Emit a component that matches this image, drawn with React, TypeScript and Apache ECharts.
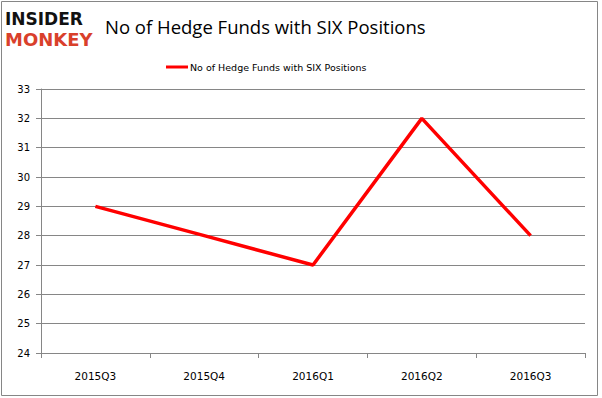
import React, { useEffect, useRef } from "react";
import * as echarts from "echarts";

const categories = ["2015Q3", "2015Q4", "2016Q1", "2016Q2", "2016Q3"];
const values = [29, 28, 27, 32, 28];
const seriesName = "No of Hedge Funds with SIX Positions";
const titleText = "No of Hedge Funds with SIX Positions";

export default function App() {
  const ref = useRef<HTMLDivElement>(null);
  useEffect(() => {
    if (!ref.current) return;
    const chart = echarts.init(ref.current, null, { renderer: "svg" });
    chart.setOption({
      animation: false,
      backgroundColor: "#ffffff",
      title: {
        text: titleText,
        left: 100,
        top: 12,
        textStyle: { fontFamily: "Open Sans", fontSize: 18.5, fontWeight: "normal", color: "#000" },
      },
      legend: {
        top: 57,
        left: 161,
        itemWidth: 22,
        itemHeight: 3,
        itemGap: 4,
        icon: "rect",
        textStyle: { fontFamily: "DejaVu Sans", fontSize: 9.5, color: "#000", padding: [0, 0, 0, -3] },
        data: [seriesName],
      },
      grid: { left: 41, right: 17, top: 89, bottom: 45, containLabel: false },
      xAxis: {
        type: "category",
        data: categories,
        boundaryGap: true,
        axisLine: { show: true, lineStyle: { color: "#868686", width: 1 } },
        axisTick: { show: true, length: 5, alignWithLabel: false, lineStyle: { color: "#868686" } },
        axisLabel: { fontFamily: "DejaVu Sans", fontSize: 10.5, color: "#000", margin: 17 },
        splitLine: { show: false },
      },
      yAxis: {
        type: "value",
        min: 24,
        max: 33,
        interval: 1,
        axisLine: { show: true, lineStyle: { color: "#868686", width: 1 } },
        axisTick: { show: true, length: 5, lineStyle: { color: "#868686" } },
        axisLabel: { fontFamily: "DejaVu Sans", fontSize: 10, color: "#000", margin: 11 },
        splitLine: { show: true, lineStyle: { color: "#868686", width: 1 } },
      },
      series: [
        {
          name: seriesName,
          type: "line",
          data: values,
          symbol: "none",
          lineStyle: { color: "#ff0000", width: 3.5 },
          itemStyle: { color: "#ff0000" },
        },
      ],
      graphic: [
        {
          type: "rect",
          shape: { x: 1.5, y: 1.5, width: 596, height: 394 },
          style: { fill: "none", stroke: "#868686", lineWidth: 1 },
          silent: true,
        },
        {
          type: "text",
          left: 5,
          top: 10,
          style: { text: "INSIDER", fontFamily: "DejaVu Sans", fontWeight: 900, fontSize: 17, fill: "#111" },
        },
        {
          type: "text",
          left: 5,
          top: 30,
          style: { text: "MONKEY", fontFamily: "DejaVu Sans", fontWeight: 900, fontSize: 18, fill: "#d9402b" },
        },
      ],
    });
    return () => chart.dispose();
  }, []);
  return <div ref={ref} style={{ width: 602, height: 398, position: "absolute", left: 0, top: 0 }} />;
}
